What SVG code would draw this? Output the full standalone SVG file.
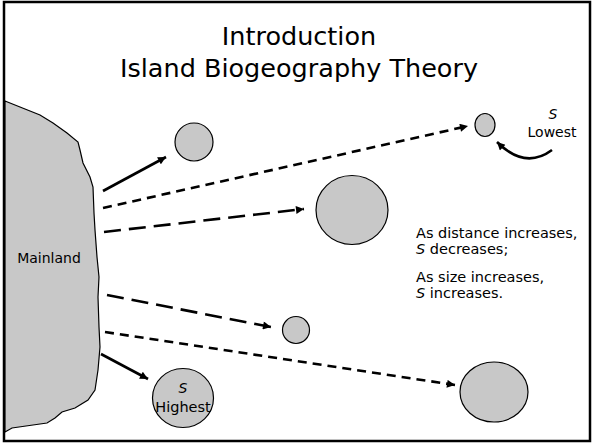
<svg xmlns="http://www.w3.org/2000/svg" width="592" height="443" viewBox="0 0 592 443">
<style>
text{font-family:"DejaVu Sans",Verdana,"Liberation Sans",sans-serif;fill:#000}
.t{font-size:25.5px;text-anchor:middle}
.l{font-size:14px}
.r{font-size:14.5px}
.c{text-anchor:middle}
.land{fill:#c8c8c8;stroke:#000;stroke-width:1.2}
.a{fill:none;stroke:#000;stroke-width:2.6}
.s{stroke-dasharray:9 6}
.d{stroke-dasharray:17 8}
</style>
<defs>
<marker id="ah" viewBox="0 0 10 10" refX="10" refY="5" markerUnits="userSpaceOnUse" markerWidth="10" markerHeight="8" orient="auto">
<path d="M0,0 L10,5 L0,10 z" fill="#000"/>
</marker>
</defs>
<rect x="4" y="2" width="586" height="439" fill="#fff" stroke="#000" stroke-width="2.5"/>
<g id="title">
<text class="t" x="299" y="45">Introduction</text>
<text class="t" x="299" y="77">Island Biogeography Theory</text>
</g>
<g id="mainland">
<path class="land" d="M5,101 L20,107 L40,115 L53,123 L67,133 L78,142 L80,150 L83,163 L90,177 L93,187 L94,213 L95,230 L97,257 L99,277 L98,297 L99,327 L100,347 L98,370 L95,390 L88,400 L75,408 L62,412 L55,418 L47,423 L33,425 L12,428 L5,432 Z"/>
<text class="l c" x="49" y="263">Mainland</text>
</g>
<g id="island1"><circle class="land" cx="194" cy="142" r="19"/></g>
<g id="island2"><ellipse class="land" cx="485" cy="125" rx="10" ry="11.5"/></g>
<g id="island3"><ellipse class="land" cx="352" cy="210" rx="36" ry="34.5"/></g>
<g id="island4"><circle class="land" cx="296" cy="330" r="13.5"/></g>
<g id="island5">
<ellipse class="land" cx="183" cy="398" rx="30.5" ry="29.5"/>
<text class="l c" x="183" y="393" font-style="italic">S</text>
<text class="r c" x="183" y="412">Highest</text>
</g>
<g id="island6"><ellipse class="land" cx="494" cy="392" rx="34" ry="30"/></g>
<g id="lowest">
<text class="l c" x="553" y="119" font-style="italic">S</text>
<text class="l c" x="552" y="137">Lowest</text>
</g>
<g id="note">
<text class="r" x="416" y="238">As distance increases,</text>
<text class="r" x="416" y="254"><tspan font-style="italic">S</tspan> decreases;</text>
<text class="r" x="416" y="282">As size increases,</text>
<text class="r" x="416" y="298"><tspan font-style="italic">S</tspan> increases.</text>
</g>
<g id="connectors">
<path class="a" d="M103,191 L166,157" marker-end="url(#ah)"/>
<path class="a s" d="M103,208 L468,126" marker-end="url(#ah)"/>
<path class="a d" d="M104,232 L304,209" marker-end="url(#ah)"/>
<path class="a d" d="M107,295 L271,327" marker-end="url(#ah)"/>
<path class="a s" d="M105,332 L455,385" marker-end="url(#ah)"/>
<path class="a" d="M101,354 L148,379" marker-end="url(#ah)"/>
<path class="a" d="M552,150 Q525,170 497,142" marker-end="url(#ah)"/>
</g>
</svg>
